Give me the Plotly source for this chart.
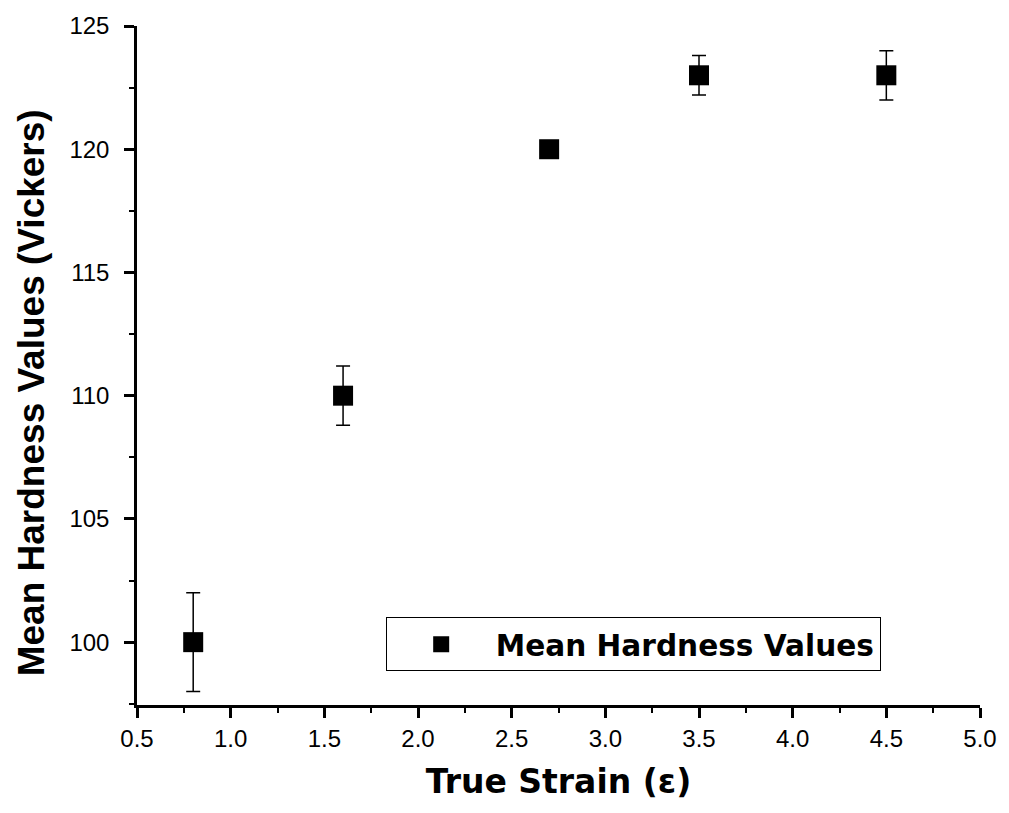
import plotly.graph_objects as go

strain = [0.8, 1.6, 2.7, 3.5, 4.5]
hardness = [100, 110, 120, 123, 123]
err_plus = [2.0, 1.2, 0.3, 0.8, 1.0]
err_minus = [2.0, 1.2, 0.3, 0.8, 1.0]

FONT = "Arial, Liberation Sans, Helvetica, sans-serif"
WIDE = "DejaVu Sans, Arial, sans-serif"

fig = go.Figure()
fig.add_trace(go.Scatter(
    x=strain, y=hardness, mode="markers", name="Mean Hardness Values",
    marker=dict(symbol="square", size=20, color="black"),
    error_y=dict(type="data", symmetric=False, array=err_plus, arrayminus=err_minus,
                 color="black", thickness=1.5, width=7),
))

fig.add_annotation(
    text="Mean Hardness Values (Vickers)", textangle=-90,
    xref="paper", yref="paper", x=-0.125, y=0.46, xanchor="center", yanchor="middle",
    showarrow=False, font=dict(family=FONT, size=37, weight="bold", color="black"),
)

fig.update_layout(
    width=1009, height=813,
    margin=dict(l=137, r=24, t=24, b=108),
    paper_bgcolor="white", plot_bgcolor="white",
    font=dict(family=FONT, color="black", size=20),
    showlegend=True,
    legend=dict(x=0.295, y=0.129, xanchor="left", yanchor="top",
                bgcolor="white", bordercolor="black", borderwidth=1,
                font=dict(family=WIDE, size=29.6, color="black", weight="bold"),
                itemwidth=99, itemsizing="trace"),
    xaxis=dict(range=[0.5, 5.0], dtick=0.5, tick0=0.5, tickformat=".1f",
               showline=True, linecolor="black", linewidth=2.5, mirror=False,
               ticks="outside", ticklen=10, tickwidth=2.5, tickcolor="black",
               showgrid=False, zeroline=False,
               minor=dict(dtick=0.25, tick0=0.5, ticks="outside", ticklen=5, tickwidth=2, tickcolor="black"),
               tickfont=dict(size=24),
               title=dict(text="True Strain (ε)", font=dict(family=WIDE, size=33, weight="bold"), standoff=20)),
    yaxis=dict(range=[97.45, 125], dtick=5, tick0=100,
               showline=True, linecolor="black", linewidth=2.5, mirror=False,
               ticks="outside", ticklen=10, tickwidth=2.5, tickcolor="black",
               showgrid=False, zeroline=False, ticklabelstandoff=10,
               minor=dict(dtick=2.5, tick0=100, ticks="outside", ticklen=5, tickwidth=2, tickcolor="black"),
               tickfont=dict(size=24)),
)

fig.write_html("out.html")
